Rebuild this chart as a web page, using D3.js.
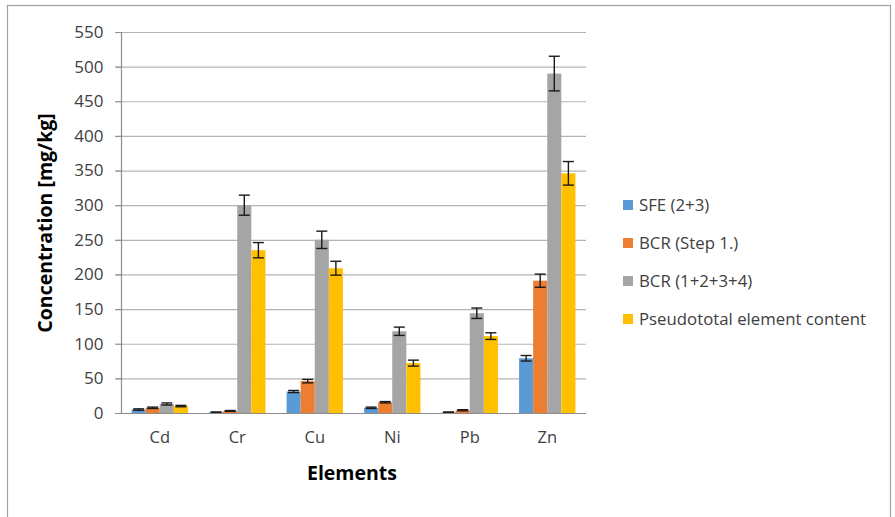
<!DOCTYPE html>
<html><head><meta charset="utf-8">
<script src="https://cdn.jsdelivr.net/npm/d3@7"></script>
<style>html,body{margin:0;padding:0;background:#fff;}svg{display:block;}</style>
</head><body>
<svg id="c" width="895" height="517"></svg>
<script>
const categories = ["Cd","Cr","Cu","Ni","Pb","Zn"];
const seriesNames = ["SFE (2+3)","BCR (Step 1.)","BCR (1+2+3+4)","Pseudototal element content"];
const sfe = [5, 1, 31, 7.5, 1, 79];
const sfeErr = [1, 0.5, 1.5, 1, 0.5, 4];
const bcr1 = [7.5, 3, 46, 15.5, 4, 191];
const bcr1Err = [1, 0.6, 2.5, 1, 0.8, 9.5];
const bcrAll = [13, 300, 250, 118, 144, 490];
const bcrAllErr = [1.5, 14.5, 12.5, 6, 7.5, 25];
const pseudo = [10, 235, 209, 72, 111, 346];
const pseudoErr = [1, 11, 10, 4.3, 4.8, 17];
const yTicks = [0,50,100,150,200,250,300,350,400,450,500,550];
const colors = ["#5b9bd5","#ed7d31","#a5a5a5","#ffc000"];

const series = [
  {name: seriesNames[0], values: sfe, errs: sfeErr},
  {name: seriesNames[1], values: bcr1, errs: bcr1Err},
  {name: seriesNames[2], values: bcrAll, errs: bcrAllErr},
  {name: seriesNames[3], values: pseudo, errs: pseudoErr}
];

const svg = d3.select("#c");
const font = "'Open Sans', 'Liberation Sans', sans-serif";

svg.append("rect").attr("x",7.5).attr("y",5.5).attr("width",883).attr("height",520)
  .attr("fill","#fff").attr("stroke","#a0a0a0").attr("stroke-width",1.2);

const L = 121, R = 586, T = 32, B = 413;
const x = d3.scaleBand().domain(categories).range([L, R]).padding(0);
const y = d3.scaleLinear().domain([0,550]).range([B, T]);
const bw = x.step()/5.5;
const xs = d3.scaleBand().domain(d3.range(4)).range([x.step()*0.75/5.5, x.step()*0.75/5.5 + 4*bw]).padding(0);

// gridlines
svg.append("g").selectAll("line").data(yTicks.filter(d=>d>0)).join("line")
  .attr("x1", L-6).attr("x2", R).attr("y1", d=>y(d)+0.5).attr("y2", d=>y(d)+0.5)
  .attr("stroke","#b4b4b4").attr("stroke-width",1.2);

// y axis
const ya = svg.append("g").attr("transform",`translate(${L+0.5},0)`)
  .call(d3.axisLeft(y).tickValues(yTicks).tickSize(6).tickPadding(12));
ya.select(".domain").attr("stroke","#8c8c8c").attr("stroke-width",1.2).attr("d",`M0,${T}V${B}`);
ya.selectAll(".tick line").attr("stroke","#8c8c8c");
ya.selectAll("text").attr("font-family",font).attr("font-size",17).attr("fill","#404040");

// bars
const groups = svg.append("g").selectAll("g").data(series).join("g").attr("fill",(d,i)=>colors[i]);
groups.each(function(s, si){
  const g = d3.select(this);
  const data = categories.map((c,ci)=>({c, v:s.values[ci], e:s.errs[ci]}));
  g.selectAll("rect").data(data).join("rect")
    .attr("x", d=>x(d.c)+xs(si)).attr("width", bw)
    .attr("y", d=>y(d.v)).attr("height", d=>B - y(d.v));
  const eg = svg.append("g").attr("stroke","#1a1a1a").attr("stroke-width",1.4).attr("fill","none");
  data.forEach(d=>{
    const cx = x(d.c)+xs(si)+bw/2;
    const y1 = y(d.v + d.e), y2 = y(Math.max(0,d.v - d.e));
    eg.append("line").attr("x1",cx).attr("x2",cx).attr("y1",y1).attr("y2",y2);
    eg.append("line").attr("x1",cx-5.5).attr("x2",cx+5.5).attr("y1",y1).attr("y2",y1);
    eg.append("line").attr("x1",cx-5.5).attr("x2",cx+5.5).attr("y1",y2).attr("y2",y2);
  });
});

// x axis
const xa = svg.append("g").attr("transform",`translate(0,${B+0.5})`)
  .call(d3.axisBottom(x).tickSize(0).tickPadding(18));
xa.select(".domain").attr("stroke","#8c8c8c").attr("stroke-width",1.2).attr("d",`M${L-6},0H${R}`);
xa.selectAll("text").attr("font-family",font).attr("font-size",16.5).attr("fill","#404040");

// axis titles
svg.append("text").attr("x",352).attr("y",480).attr("text-anchor","middle")
  .attr("font-family",font).attr("font-weight","bold").attr("font-size",19.5).attr("fill","#000")
  .text("Elements");
svg.append("text").attr("transform","translate(52,223) rotate(-90)").attr("text-anchor","middle")
  .attr("font-family",font).attr("font-weight","bold").attr("font-size",19.5).attr("fill","#000")
  .text("Concentration [mg/kg]");

// legend
const lg = svg.append("g").selectAll("g").data(series).join("g")
  .attr("transform",(d,i)=>`translate(623,${205 + i*38})`);
lg.append("rect").attr("x",0).attr("y",-5).attr("width",10).attr("height",10).attr("fill",(d,i)=>colors[i]);
lg.append("text").attr("x",16).attr("y",0).attr("dy","0.35em")
  .attr("font-family",font).attr("font-size",16.8).attr("fill","#404040").text(d=>d.name);
</script>
</body></html>
